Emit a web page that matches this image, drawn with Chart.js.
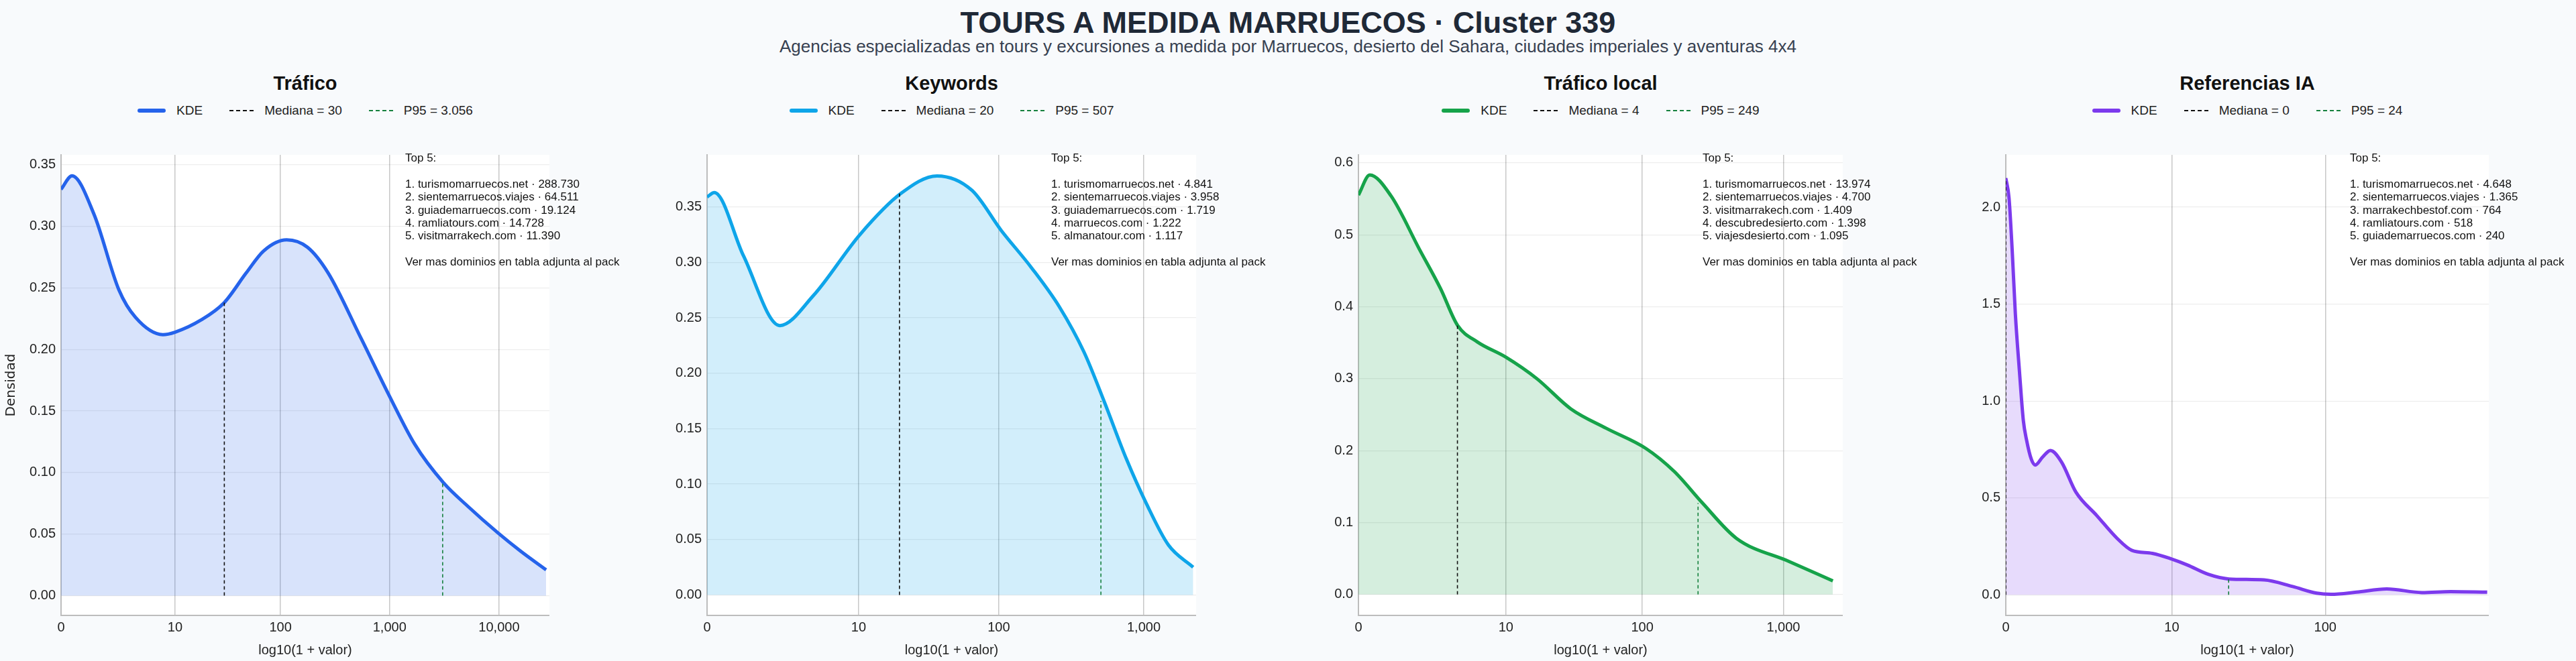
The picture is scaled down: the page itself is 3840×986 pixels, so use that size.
<!DOCTYPE html>
<html><head><meta charset="utf-8">
<script src="https://cdn.jsdelivr.net/npm/chart.js@4"></script>
<style>
body{margin:0;width:3840px;height:986px;background:#f8fafc;font-family:"Liberation Sans",Arial,sans-serif;position:relative;overflow:hidden}
.abs{position:absolute}
#title{left:0;width:3840px;top:8px;text-align:center;font-weight:bold;font-size:45px;color:#1f2937}
#sub{left:0;width:3840px;top:54px;text-align:center;font-size:26px;color:#374151}
.ptitle{font-weight:bold;font-size:29px;color:#111;text-align:center}
.leg{font-size:19px;color:#222;display:flex;align-items:center;justify-content:center;white-space:nowrap}
.leg span.s{display:inline-block;width:40px;margin-right:16px}
.leg span.t{margin-right:40px}
.top5{font-size:17px;line-height:19.4px;color:#111;white-space:pre}
</style></head><body>
<div id="title" class="abs">TOURS A MEDIDA MARRUECOS · Cluster 339</div>
<div id="sub" class="abs">Agencias especializadas en tours y excursiones a medida por Marruecos, desierto del Sahara, ciudades imperiales y aventuras 4x4</div>
<script>
// ---- data ----
const panelTitles = ["Tráfico","Keywords","Tráfico local","Referencias IA"];
const medianLabels = ["30","20","4","0"];
const p95Labels = ["3.056","507","249","24"];
const medianX = [1.491,1.322,0.699,0];
const medianY = [0.238,0.362,0.374,2.15];
const p95X = [3.485,2.706,2.398,1.398];
const p95Y = [0.091,0.175,0.127,0.082];
const kdeX1 = [0,0.1,0.3,0.53,0.68,0.93,1.04,1.28,1.49,1.69,1.85,2.06,2.25,2.44,2.74,3.0,3.23,3.49,3.71,3.99,4.2,4.43];
const kdeY1 = [0.330,0.341,0.31,0.248,0.226,0.212,0.214,0.224,0.238,0.262,0.280,0.289,0.283,0.262,0.209,0.162,0.123,0.092,0.073,0.051,0.036,0.021];
const kdeX2 = [0,0.05,0.25,0.5,0.73,1.05,1.33,1.58,1.82,2.02,2.23,2.42,2.59,2.73,2.88,3.02,3.17,3.34];
const kdeY2 = [0.359,0.363,0.306,0.243,0.27,0.325,0.362,0.378,0.365,0.329,0.295,0.26,0.219,0.174,0.123,0.082,0.045,0.025];
const kdeX3 = [0,0.08,0.23,0.43,0.58,0.70,0.84,1.04,1.26,1.5,1.75,2.03,2.23,2.43,2.67,3.04,3.35];
const kdeY3 = [0.555,0.583,0.554,0.48,0.425,0.374,0.351,0.33,0.30,0.258,0.231,0.203,0.171,0.127,0.078,0.046,0.019];
const kdeX4 = [0,0.02,0.04,0.06,0.086,0.11,0.13,0.16,0.185,0.23,0.28,0.35,0.44,0.57,0.70,0.79,0.92,1.04,1.14,1.27,1.40,1.62,1.80,1.95,2.04,2.2,2.39,2.61,2.79,3.02];
const kdeY4 = [2.15,2.05,1.78,1.45,1.15,0.9,0.80,0.70,0.67,0.71,0.745,0.685,0.53,0.41,0.29,0.23,0.214,0.185,0.154,0.106,0.082,0.077,0.043,0.009,0.003,0.014,0.031,0.012,0.017,0.014];
const tickVals = [[0,10,100,1000,10000],[0,10,100,1000],[0,10,100,1000],[0,10,100]];
const tickLabels = [["0","10","100","1,000","10,000"],["0","10","100","1,000"],["0","10","100","1,000"],["0","10","100"]];
const top5 = [
 ["1. turismomarruecos.net · 288.730","2. sientemarruecos.viajes · 64.511","3. guiademarruecos.com · 19.124","4. ramliatours.com · 14.728","5. visitmarrakech.com · 11.390"],
 ["1. turismomarruecos.net · 4.841","2. sientemarruecos.viajes · 3.958","3. guiademarruecos.com · 1.719","4. marruecos.com · 1.222","5. almanatour.com · 1.117"],
 ["1. turismomarruecos.net · 13.974","2. sientemarruecos.viajes · 4.700","3. visitmarrakech.com · 1.409","4. descubredesierto.com · 1.398","5. viajesdesierto.com · 1.095"],
 ["1. turismomarruecos.net · 4.648","2. sientemarruecos.viajes · 1.365","3. marrakechbestof.com · 764","4. ramliatours.com · 518","5. guiademarruecos.com · 240"]];
// ---- layout / style ----
const kx=[kdeX1,kdeX2,kdeX3,kdeX4], ky=[kdeY1,kdeY2,kdeY3,kdeY4];
const plotL=[91,1054,2025,2990], plotR=[819,1783,2747,3710];
const xMax=[4.46,3.36,3.42,3.03];
const yMin=[-0.016,-0.0185,-0.029,-0.106], yMax=[0.358,0.397,0.611,2.27];
const yStep=[0.05,0.05,0.1,0.5], yDec=[2,2,1,1];
const colors=["#2563eb","#0ea5e9","#16a34a","#7c3aed"];
const fills=["rgba(37,99,235,0.18)","rgba(14,165,233,0.19)","rgba(22,163,74,0.18)","rgba(124,58,237,0.18)"];
const YW=90, TOP=211, BOT=918, H=986-TOP, XH=986-BOT;
const bgPlugin={id:'bg',beforeDraw(c){const a=c.chartArea,x=c.ctx;x.save();x.fillStyle='#fff';x.fillRect(a.left,a.top,a.right-a.left,a.bottom-a.top);x.restore();}};
for(let i=0;i<4;i++){
  const cx=(plotL[i]+plotR[i])/2;
  const t=document.createElement('div');t.className='abs ptitle';t.style.left=(cx-300)+'px';t.style.width='600px';t.style.top='108px';t.textContent=panelTitles[i];document.body.appendChild(t);
  const lg=document.createElement('div');lg.className='abs leg';lg.style.left=(cx-400)+'px';lg.style.width='800px';lg.style.top='153px';lg.style.height='24px';
  lg.innerHTML=`<span class="s" style="border-top:6px solid ${colors[i]};border-radius:3px;width:42px"></span><span class="t">KDE</span>`+
   `<span class="s" style="border-top:2px dashed #111;width:36px"></span><span class="t">Mediana = ${medianLabels[i]}</span>`+
   `<span class="s" style="border-top:2px dashed #15803d;width:36px"></span><span class="t" style="margin-right:0">P95 = ${p95Labels[i]}</span>`;
  document.body.appendChild(lg);
  const tp=document.createElement('div');tp.className='abs top5';tp.style.left=(plotL[i]+513)+'px';tp.style.top='226px';
  tp.textContent="Top 5:\n\n"+top5[i].join("\n")+"\n\nVer mas dominios en tabla adjunta al pack";
  const wrap=document.createElement('div');wrap.className='abs';
  const W=YW+(plotR[i]-plotL[i]);
  wrap.style.left=(plotL[i]-YW)+'px';wrap.style.top=TOP+'px';wrap.style.width=W+'px';wrap.style.height=H+'px';
  const cv=document.createElement('canvas');wrap.appendChild(cv);document.body.appendChild(wrap);document.body.appendChild(tp);
  new Chart(cv,{type:'line',plugins:[bgPlugin],
    data:{datasets:[
      {data:kx[i].map((x,j)=>({x,y:ky[i][j]})),borderColor:colors[i],backgroundColor:fills[i],fill:'origin',borderWidth:5,pointRadius:0,cubicInterpolationMode:'monotone',order:2},
      {data:[{x:medianX[i],y:0},{x:medianX[i],y:medianY[i]}],borderColor:'#111',borderWidth:1.6,borderDash:[5,4],pointRadius:0,fill:false,order:1},
      {data:[{x:p95X[i],y:0},{x:p95X[i],y:p95Y[i]}],borderColor:'#15803d',borderWidth:1.6,borderDash:[5,4],pointRadius:0,fill:false,order:1}
    ]},
    options:{responsive:true,maintainAspectRatio:false,animation:false,layout:{padding:0},
      plugins:{legend:{display:false},tooltip:{enabled:false}},
      scales:{
        x:{type:'linear',min:0,max:xMax[i],
          afterBuildTicks:s=>{s.ticks=tickVals[i].map(v=>({value:Math.log10(1+v)}));},
          afterFit:s=>{s.height=XH;},
          ticks:{autoSkip:false,maxRotation:0,font:{size:20,family:'Liberation Sans'},color:'#222',padding:6,callback:(v,k)=>tickLabels[i][k]},
          grid:{color:'#c8c8c8',lineWidth:1.5,drawTicks:false},
          border:{color:'#bdbdbd',width:2},
          title:{display:true,text:'log10(1 + valor)',font:{size:20,family:'Liberation Sans'},color:'#222',padding:{top:2}}},
        y:{min:yMin[i],max:yMax[i],
          afterBuildTicks:s=>{const a=[];for(let v=0;v<=yMax[i]+1e-9;v+=yStep[i])a.push({value:+v.toFixed(4)});s.ticks=a;},
          afterFit:s=>{s.width=YW;},
          ticks:{font:{size:20,family:'Liberation Sans'},color:'#222',padding:8,callback:v=>v.toFixed(yDec[i])},
          grid:{color:'rgba(0,0,0,0.07)',lineWidth:1.2,drawTicks:false},
          border:{color:'#bdbdbd',width:2},
          title:{display:i===0,text:'Densidad',font:{size:20,family:'DejaVu Sans'},color:'#222',padding:{bottom:4}}}
      }}});
}
</script>
</body></html>
